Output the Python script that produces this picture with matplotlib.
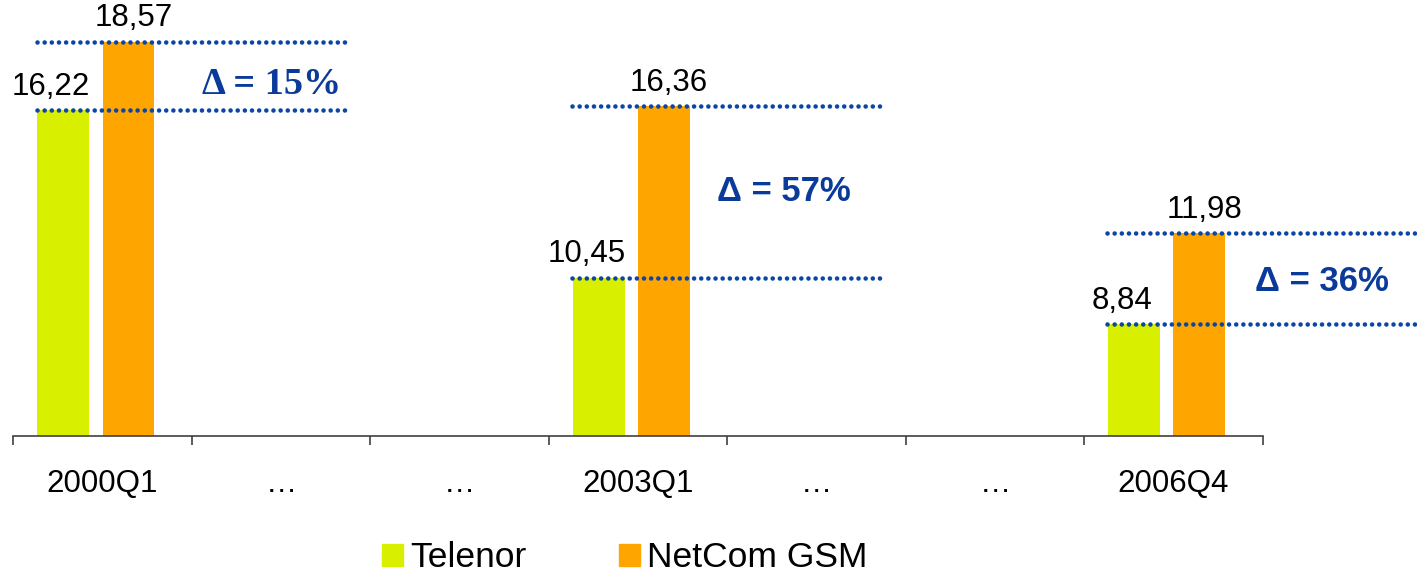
import numpy as np
import matplotlib
matplotlib.use("Agg")
import matplotlib.pyplot as plt
from matplotlib.patches import Patch

plt.rcParams['font.family'] = ['Liberation Sans', 'DejaVu Sans']

# === DATOS ===
categorias = ['2000Q1', '…', '…', '2003Q1', '…', '…', '2006Q4']
telenor = [16.22, np.nan, np.nan, 10.45, np.nan, np.nan, 8.84]
netcom = [18.57, np.nan, np.nan, 16.36, np.nan, np.nan, 11.98]
deltas = [15, 57, 36]

# posicion del texto delta (dx en categorias, dy en puntos)
delta_dx = [0.95, 0.82, 0.83]
delta_dy = [-6, 0, -2]

c_tel = '#D8F000'
c_net = '#FFA500'
c_azul = '#0B46A6'
c_txt = '#0A3A9A'

x = np.arange(len(categorias))
ancho = 0.29

fig = plt.figure(figsize=(14.17, 5.78), dpi=100)
ax = fig.add_axes([0.0094, 0.2457, 0.8817, 0.7543])

ax.bar(x - 0.22, telenor, ancho, color=c_tel, zorder=2)
ax.bar(x + 0.145, netcom, ancho, color=c_net, zorder=2)

ax.set_xlim(-0.5, len(categorias) - 0.5)
ax.set_ylim(5, 20)

# etiquetas de valor
for i in range(len(categorias)):
    if np.isnan(telenor[i]):
        continue
    ax.annotate(f"{telenor[i]:.2f}".replace('.', ','), (x[i] - 0.22, telenor[i]),
                xytext=(-9, 11), textcoords='offset points',
                ha='center', va='baseline', fontsize=22.5, color='black')
    ax.annotate(f"{netcom[i]:.2f}".replace('.', ','), (x[i] + 0.145, netcom[i]),
                xytext=(3.5, 11), textcoords='offset points',
                ha='center', va='baseline', fontsize=22.5, color='black')

# lineas punteadas y delta
k = 0
for i in range(len(categorias)):
    if np.isnan(telenor[i]):
        continue
    for v in (telenor[i], netcom[i]):
        ax.plot([x[i] - 0.37, x[i] + 1.38], [v, v], color=c_azul, lw=3.3,
                linestyle=(0, (0.01, 1.55)), dash_capstyle='round',
                clip_on=False, zorder=3)
    fam = ['Liberation Serif', 'DejaVu Serif'] if k == 0 else ['Liberation Sans', 'DejaVu Sans']
    fs = 27.5 if k == 0 else 25
    ax.annotate(f"Δ = {deltas[k]}%", (x[i] + delta_dx[k], (telenor[i] + netcom[i]) / 2),
                xytext=(0, delta_dy[k]), textcoords='offset points',
                ha='center', va='center', fontsize=fs, fontweight='bold',
                color=c_txt, family=fam, annotation_clip=False)
    k += 1

# ejes
for s in ['left', 'right', 'top']:
    ax.spines[s].set_visible(False)
ax.spines['bottom'].set_color('#404040')
ax.spines['bottom'].set_linewidth(1.2)
ax.set_yticks([])
ax.set_xticks(x)
ax.set_xticklabels(categorias, fontsize=22.5)
ax.set_xticks(np.arange(-0.5, len(categorias), 1), minor=True)
ax.tick_params(axis='x', which='major', length=0, pad=24)
ax.tick_params(axis='x', which='minor', length=6.5, width=1.2, color='#404040')

handles = [Patch(color=c_tel, label='Telenor'), Patch(color=c_net, label='NetCom GSM')]
fig.legend(handles=handles, loc='center', bbox_to_anchor=(0.441, 0.035), ncol=2,
           frameon=False, fontsize=25.5, handlelength=0.6, handleheight=0.6,
           handletextpad=0.2, columnspacing=2.6)

fig.savefig('out.png', dpi=100)
